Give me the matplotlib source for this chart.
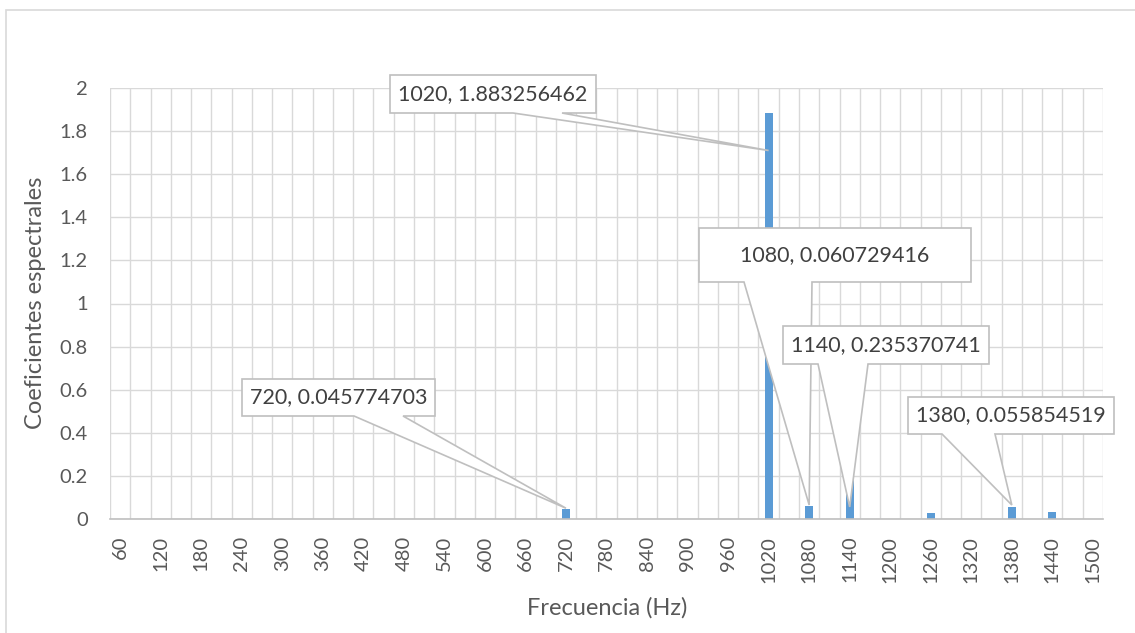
import matplotlib
matplotlib.use("Agg")
import matplotlib.pyplot as plt
from matplotlib.patches import Polygon, Rectangle
import numpy as np

plt.rcParams['font.family'] = ['Lato', 'DejaVu Sans']

W, H = 1135, 633

# Spectrum: one column every 30 Hz, only a few harmonics are non-zero
freqs = np.arange(60, 1501, 30)
peak_freqs = [720, 1020, 1080, 1140, 1260, 1380, 1440]
peak_coefs = [0.045774703, 1.883256462, 0.060729416, 0.235370741, 0.029, 0.055854519, 0.034]
y_ticks = np.arange(0, 2.01, 0.2)

# Callouts: which columns get a label, box (left, top, width, height) and
# wedge base in figure pixels, and the height the pointer lands on
callout_freqs = [720, 1020, 1080, 1140, 1380]
callout_boxes = [(242, 379, 193, 37), (390, 75, 206, 38), (699, 228, 272, 54),
                 (783, 326, 206, 38), (908, 397, 206, 37)]
callout_bases = [(354, 403), (513, 562), (744, 812), (818, 868), (942, 995)]
callout_anchor = [0.05, 1.71, 0.065, 0.056, 0.065]

coefs = np.zeros(len(freqs))
for f, c in zip(peak_freqs, peak_coefs):
    coefs[list(freqs).index(f)] = c

grid_c = '#D9D9D9'
text_c = '#595959'
bar_c = '#5B9BD5'

fig = plt.figure(figsize=(W / 100, H / 100), dpi=100)
ax = fig.add_axes([110 / W, 1 - 519 / H, 993 / W, 431 / H])

x = np.arange(len(freqs))
ax.bar(x, coefs, width=0.4, color=bar_c, zorder=3)

ax.set_xlim(-0.5, len(freqs) - 0.5)
ax.set_ylim(0, 2)

# category gridlines sit between columns
for b in np.arange(-0.5, len(freqs), 1.0):
    ax.axvline(b, color=grid_c, lw=1.0, zorder=1)
for v in y_ticks:
    ax.axhline(v, color=grid_c, lw=1.0, zorder=1)

ax.set_xticks(x)
ax.set_xticklabels([str(f) if i % 2 == 0 else '' for i, f in enumerate(freqs)],
                   rotation=90, fontsize=14.5, color=text_c)
ax.set_yticks(y_ticks)
ax.set_yticklabels([f"{round(v, 1):g}" for v in y_ticks], fontsize=14.5, color=text_c)
ax.tick_params(axis='both', length=0)
ax.tick_params(axis='x', pad=12)
ax.tick_params(axis='y', pad=16)

for s in ['top', 'right', 'left']:
    ax.spines[s].set_visible(False)
ax.spines['bottom'].set_color('#BFBFBF')
ax.spines['bottom'].set_linewidth(1.2)
ax.spines['bottom'].set_zorder(4)

fig.text(607 / W, 1 - 608 / H, 'Frecuencia (Hz)', ha='center', va='center',
         fontsize=17, color=text_c)
fig.text(36 / W, 1 - 303 / H, 'Coeficientes espectrales', ha='center', va='center',
         rotation=90, fontsize=17, color=text_c)

# chart area border
fig.add_artist(Rectangle((6 / W, -0.05), 1.1, 1 - 10 / H + 0.05, transform=fig.transFigure,
                         fill=False, edgecolor=grid_c, lw=1.2))

inv = fig.transFigure.inverted()
for i, f in enumerate(callout_freqs):
    k = list(freqs).index(f)
    value = coefs[k]
    tip = inv.transform(ax.transData.transform((k, callout_anchor[i])))
    left, top, w, h = callout_boxes[i]
    l, r = left / W, (left + w) / W
    t, b = 1 - top / H, 1 - (top + h) / H
    b0, b1 = callout_bases[i][0] / W, callout_bases[i][1] / W
    pts = [(l, b), (b0, b), tuple(tip), (b1, b), (r, b), (r, t), (l, t)]
    fig.add_artist(Polygon(pts, closed=True, transform=fig.transFigure,
                           facecolor='white', edgecolor='#BFBFBF', lw=1.2,
                           zorder=5 + 2 * i))
    fig.text((l + r) / 2, (t + b) / 2, f"{f}, {value:.9f}", ha='center', va='center',
             fontsize=15.5, color='#404040', zorder=6 + 2 * i)

fig.savefig('out.png', dpi=100, facecolor='white')
